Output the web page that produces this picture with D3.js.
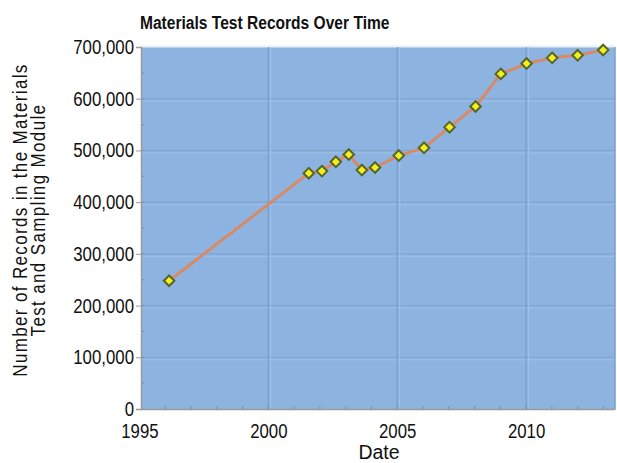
<!DOCTYPE html>
<html><head><meta charset="utf-8">
<script src="https://cdn.jsdelivr.net/npm/d3@7"></script>
<style>
html,body{margin:0;padding:0;background:#fff;}
svg{display:block;}
text{font-family:"Liberation Sans",Arial,sans-serif;fill:#111;}
</style></head>
<body>
<svg id="c" width="617" height="463"></svg>
<script>
const title = "Materials Test Records Over Time";
const xLabel = "Date";
const yLabelLines = ["Number of Records in the Materials", "Test and Sampling Module"];
const dates = [1996.15, 2001.57, 2002.08, 2002.62, 2003.12, 2003.63, 2004.14, 2005.06, 2006.04, 2007.03, 2008.04, 2009.02, 2010.02, 2011.01, 2012.0, 2012.99];
const records = [248000, 456000, 460000, 478000, 492000, 462000, 467000, 490000, 505000, 545000, 585000, 648000, 668000, 679000, 684000, 694000];
const xTicks = [1995, 2000, 2005, 2010];
const yTicks = [0, 100000, 200000, 300000, 400000, 500000, 600000, 700000];

const SX = 0.82; // horizontal squeeze to imitate a narrow face
const svg = d3.select("#c");
const L = 141, R = 615, T = 47, B = 409;
const x = d3.scaleLinear().domain([1995.06, 2013.45]).range([L, R]);
const y = d3.scaleLinear().domain([0, 700000]).range([B, T]);

// plot background
svg.append("rect").attr("x", L).attr("y", T).attr("width", R - L).attr("height", B - T)
  .attr("fill", "#8db4e1");
svg.append("line").attr("x1", L).attr("x2", R).attr("y1", T - 0.5).attr("y2", T - 0.5)
  .attr("stroke", "#e9eef2").attr("stroke-width", 2);

// gridlines (with a lighter echo line)
const g = svg.append("g");
yTicks.filter(v => v > 0 && v < 700000).forEach(v => {
  g.append("line").attr("x1", L).attr("x2", R).attr("y1", y(v)).attr("y2", y(v))
    .attr("stroke", "#7fa2cf").attr("stroke-width", 1);
  g.append("line").attr("x1", L).attr("x2", R).attr("y1", y(v) + 2.5).attr("y2", y(v) + 2.5)
    .attr("stroke", "#9fbfe6").attr("stroke-width", 1);
});
xTicks.filter(v => v > 1995).forEach(v => {
  g.append("line").attr("x1", x(v)).attr("x2", x(v)).attr("y1", T).attr("y2", B)
    .attr("stroke", "#7a9dcb").attr("stroke-width", 1.2);
  g.append("line").attr("x1", x(v) + 2.5).attr("x2", x(v) + 2.5).attr("y1", T).attr("y2", B)
    .attr("stroke", "#a0c0e7").attr("stroke-width", 1);
});
// right edge
svg.append("line").attr("x1", R).attr("x2", R).attr("y1", T).attr("y2", B)
  .attr("stroke", "#7b9ecb").attr("stroke-width", 1.5);

// minor ticks
const minorX = d3.range(1996, 2014);
svg.append("g").selectAll("line").data(minorX).join("line")
  .attr("x1", d => x(d)).attr("x2", d => x(d)).attr("y1", B).attr("y2", B - 3)
  .attr("stroke", "#6f8fba").attr("stroke-width", 1);
const minorY = d3.range(50000, 700000, 50000);
svg.append("g").selectAll("line").data(minorY).join("line")
  .attr("x1", L).attr("x2", L + 3).attr("y1", d => y(d)).attr("y2", d => y(d))
  .attr("stroke", "#6f8fba").attr("stroke-width", 1);

// axes
const xAxis = d3.axisBottom(x).tickValues(xTicks).tickFormat(d3.format("d")).tickSize(0).tickPadding(14);
const xg = svg.append("g").attr("transform", `translate(0,${B})`).call(xAxis);
xg.select(".domain").attr("stroke", "#9a9a9a").attr("stroke-width", 1.5);
xg.selectAll("text").attr("font-size", 20.5).attr("fill", "#111")
  .attr("font-family", '"Liberation Sans",Arial,sans-serif')
  .attr("transform", `scale(${SX},1)`);

const yAxis = d3.axisLeft(y).tickValues(yTicks).tickFormat(d3.format(",")).tickSize(5).tickPadding(2);
const yg = svg.append("g").attr("transform", `translate(${L},0)`).call(yAxis);
yg.select(".domain").attr("stroke", "#9a9a9a").attr("stroke-width", 1.5);
yg.selectAll(".tick line").attr("stroke", "#9a9a9a");
yg.selectAll("text").attr("font-size", 20.5).attr("fill", "#111")
  .attr("font-family", '"Liberation Sans",Arial,sans-serif')
  .attr("x", -7 / SX).attr("transform", `scale(${SX},1)`);

// line
const line = d3.line().x((d, i) => x(dates[i])).y(d => y(d));
svg.append("path").datum(records).attr("d", line).attr("fill", "none")
  .attr("stroke", "#d88a66").attr("stroke-width", 3).attr("stroke-linejoin", "round");

// markers
const sym = d3.symbol().type(d3.symbolDiamond2).size(72);
svg.append("g").selectAll("path").data(records).join("path")
  .attr("d", sym)
  .attr("transform", (d, i) => `translate(${x(dates[i])},${y(d)})`)
  .attr("fill", "#f3ee1c").attr("stroke", "#56652c").attr("stroke-width", 2);

// title
svg.append("text").attr("transform", `translate(140,29) scale(${SX},1)`)
  .attr("font-size", 19).attr("font-weight", "bold").text(title);

// x label
svg.append("text").attr("x", 379).attr("y", 459).attr("text-anchor", "middle")
  .attr("font-size", 19.5).text(xLabel);

// y label
const yl = svg.append("text").attr("transform", `translate(0,220) rotate(-90) scale(0.85,1)`)
  .attr("text-anchor", "middle").attr("font-size", 20).attr("letter-spacing", 1.6);
yLabelLines.forEach((t, i) => {
  yl.append("tspan").attr("x", 0).attr("y", 27 + i * 18.5).text(t);
});
</script>
</body></html>
